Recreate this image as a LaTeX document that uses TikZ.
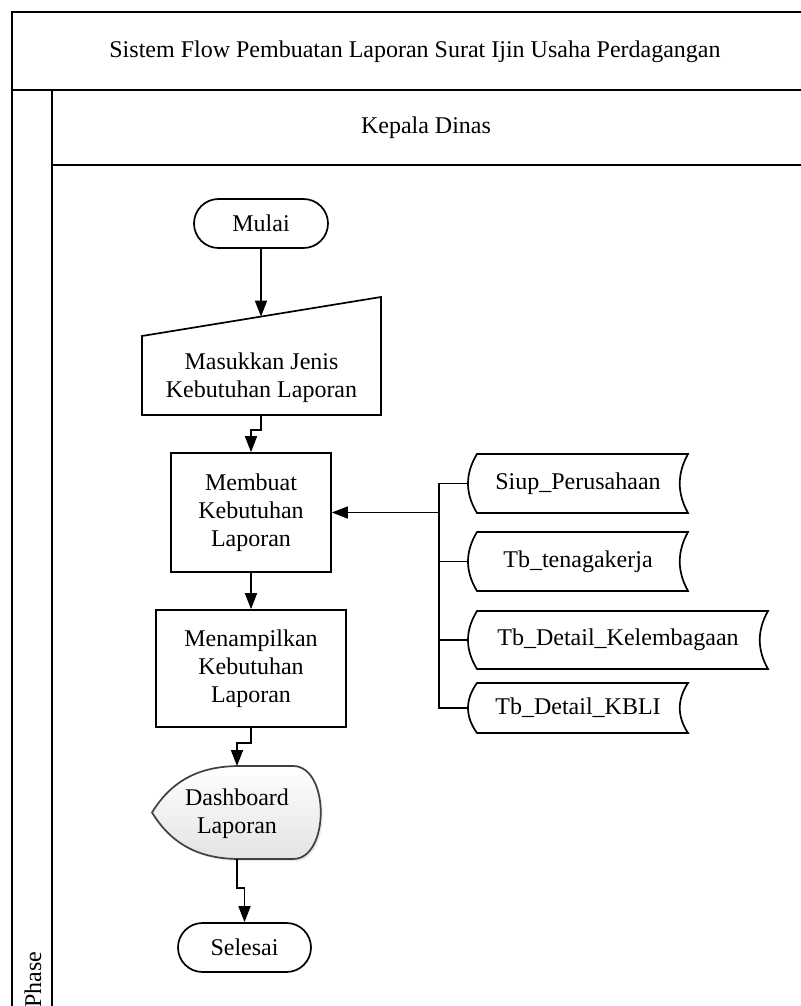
\documentclass[tikz,border=0pt]{standalone}
\usepackage{fontspec}
\setmainfont{Liberation Serif}
\usetikzlibrary{arrows.meta,shapes.misc,shadows}
\newcommand{\diagfont}{\fontsize{24}{28}\selectfont}
% stored-data outline: left x, right x, top y, bottom y
\newcommand{\storeoutline}[4]{%
  \draw[edge] ({#1+9},#3) -- (#2,#3)
    .. controls ({#2-11},{#3+(#4-#3)/3}) and ({#2-11},{#4-(#4-#3)/3}) .. (#2,#4)
    -- ({#1+9},#4)
    .. controls ({#1-3},{#4-(#4-#3)/3}) and ({#1-3},{#3+(#4-#3)/3}) .. ({#1+9},#3) -- cycle;}
\tikzset{
  edge/.style={line width=1.7pt},
  txt/.style={font=\diagfont, align=center, inner sep=0pt},
  terminal/.style={txt, draw, edge, rounded rectangle, rounded rectangle arc length=180},
  process/.style={txt, draw, edge, rectangle},
  store/.style={txt, minimum height=55pt},
  flow/.style={edge, -{Triangle[length=16pt,width=12pt]}},
}
\begin{document}
\begin{tikzpicture}[x=1pt,y=-1pt]
\useasboundingbox (0,0) rectangle (800,1006);

% swimlane frame
\draw[edge] (12,1010) -- (12,12) -- (804,12);
\draw[edge] (12,90) -- (804,90);
\draw[edge] (52,90) -- (52,1010);
\draw[edge] (52,165) -- (804,165);
\node[txt] (title) at (415,52) {Sistem Flow Pembuatan Laporan Surat Ijin Usaha Perdagangan};
\node[txt] (lane) at (426,128) {Kepala Dinas};
\node[txt, rotate=90, anchor=west] (phase) at (33,1008) {Phase};

% start
\node[terminal, minimum width=134pt, minimum height=49pt] (mulai) at (261,223.5) {Mulai};

% manual input
\draw[edge] (142,415) -- (142,336) -- (381,297) -- (381,415) -- cycle;
\node[txt] (masuk) at (261.5,378) {Masukkan Jenis\\Kebutuhan Laporan};
\coordinate (masukTop) at (261,316.6);
\coordinate (masukBot) at (261,415);

% processes
\node[process, minimum width=160pt, minimum height=119pt] (membuat) at (251,512.5) {Membuat\\Kebutuhan\\Laporan};
\node[process, minimum width=190pt, minimum height=117pt] (tampil) at (251,668.5) {Menampilkan\\Kebutuhan\\Laporan};

% display
\path[edge, draw=black!75, top color=white, bottom color=black!11,
      drop shadow={shadow xshift=2pt, shadow yshift=-2pt, opacity=0.2}]
  (152,812.5) .. controls (172,780) and (200,766) .. (240,766) -- (293,766)
  .. controls (330,766) and (330,859) .. (293,859) -- (240,859)
  .. controls (200,859) and (172,845) .. (152,812.5) -- cycle;
\node[txt] (dash) at (237,814) {Dashboard\\Laporan};
\coordinate (dashTop) at (237,766);
\coordinate (dashBot) at (237,859);

% end
\node[terminal, minimum width=133pt, minimum height=49pt] (selesai) at (244.5,947.5) {Selesai};

% data stores
\storeoutline{468}{688}{454}{513}
\storeoutline{468}{688}{532}{591}
\storeoutline{468}{768}{611}{669}
\storeoutline{468}{688}{683}{733}
\node[store, minimum width=220pt] (s1) at (578,483.5) {Siup\_Perusahaan};
\node[store, minimum width=220pt] (s2) at (578,561.5) {Tb\_tenagakerja};
\node[store, minimum width=300pt] (s3) at (618,640) {Tb\_Detail\_Kelembagaan};
\node[store, minimum width=220pt] (s4) at (578,708) {Tb\_Detail\_KBLI};
\coordinate (bus) at (439,512.5);

% connectors
\draw[flow] (mulai.south) -- (masukTop);
\draw[flow] (masukBot) -- ++(0,15) -| (membuat.north);
\draw[flow] (membuat.south) -- (tampil.north);
\draw[flow] (tampil.south) -- ++(0,15) -| (dashTop);
\draw[flow] (dashBot) -- ++(0,29) -| (selesai.north);
\draw[edge] (s1.west) -| (bus);
\draw[edge] (s4.west) -| (bus);
\draw[edge] (s2.west) -- (s2.west -| bus);
\draw[edge] (s3.west) -- (s3.west -| bus);
\draw[flow] (bus) -- (membuat.east);
\end{tikzpicture}
\end{document}
